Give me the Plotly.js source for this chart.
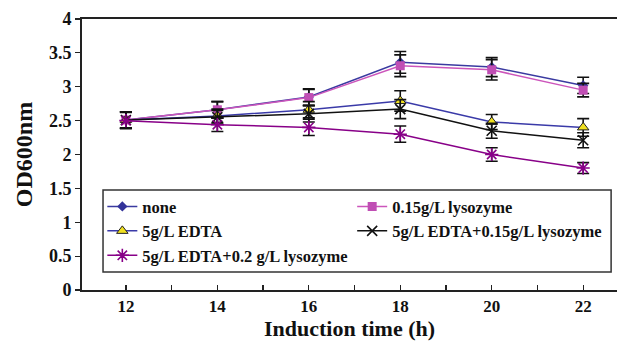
<!DOCTYPE html>
<html>
<head>
<meta charset="utf-8">
<script src="https://cdn.plot.ly/plotly-3.0.1.min.js"></script>
<style>html,body{margin:0;padding:0;background:#fff;}#chart{width:617px;height:347px;}</style>
</head>
<body>
<div id="chart"></div>
<script>
var hours = [12, 14, 16, 18, 20, 22];
var seriesNames = ["none", "0.15g/L lysozyme", "5g/L EDTA", "5g/L EDTA+0.15g/L lysozyme", "5g/L EDTA+0.2 g/L lysozyme"];
var noneVals = [2.51, 2.66, 2.85, 3.36, 3.29, 3.02];
var noneErr = [0.12, 0.12, 0.12, 0.16, 0.14, 0.12];
var lysVals = [2.51, 2.66, 2.84, 3.31, 3.25, 2.95];
var lysErr = [0.12, 0.12, 0.12, 0.16, 0.15, 0.1];
var edtaVals = [2.51, 2.57, 2.66, 2.79, 2.48, 2.40];
var edtaErr = [0.12, 0.1, 0.12, 0.15, 0.11, 0.13];
var edtaLys15Vals = [2.51, 2.55, 2.60, 2.67, 2.35, 2.21];
var edtaLys15Err = [0.12, 0.1, 0.12, 0.14, 0.11, 0.11];
var edtaLys20Vals = [2.50, 2.44, 2.40, 2.30, 2.00, 1.80];
var edtaLys20Err = [0.12, 0.1, 0.12, 0.12, 0.1, 0.08];
var xTickVals = [12, 14, 16, 18, 20, 22];
var yTickVals = [0, 0.5, 1, 1.5, 2, 2.5, 3, 3.5, 4];
var yTickText = ["0", "0.5", "1", "1.5", "2", "2.5", "3", "3.5", "4"];

function errBar(arr) {
  return {type: 'data', array: arr, visible: true, color: '#111', thickness: 1.6, width: 6};
}

var traces = [
  {x: hours, y: noneVals, name: seriesNames[0], legend: 'legend', legendgroup: 'a', mode: 'lines+markers', type: 'scatter',
   line: {color: '#3a3aa0', width: 1.5},
   marker: {symbol: 'diamond', size: 8, color: '#33339a'}, error_y: errBar(noneErr)},
  {x: hours, y: lysVals, name: seriesNames[1], legend: 'legend2', legendgroup: 'b', mode: 'lines+markers', type: 'scatter',
   line: {color: '#cc55bb', width: 1.5},
   marker: {symbol: 'square', size: 9, color: '#c04eb4'}, error_y: errBar(lysErr)},
  {x: hours, y: edtaVals, name: seriesNames[2], legend: 'legend', legendgroup: 'c', mode: 'lines+markers', type: 'scatter',
   line: {color: '#3a3aa8', width: 1.5},
   marker: {symbol: 'triangle-up', size: 10, color: '#f0e020', line: {color: '#222', width: 1}}, error_y: errBar(edtaErr)},
  {x: hours, y: edtaLys15Vals, name: seriesNames[3], legend: 'legend2', legendgroup: 'd', mode: 'lines+markers', type: 'scatter',
   line: {color: '#111', width: 1.5},
   marker: {symbol: 'x-thin-open', size: 10, color: '#111', line: {color: '#111', width: 1.6}}, error_y: errBar(edtaLys15Err)},
  {x: hours, y: edtaLys20Vals, name: seriesNames[4], legend: 'legend', legendgroup: 'e', mode: 'lines+markers', type: 'scatter',
   line: {color: '#880088', width: 1.5},
   marker: {symbol: 'asterisk-open', size: 11, color: '#880088', line: {color: '#880088', width: 1.6}}, error_y: errBar(edtaLys20Err)}
];

var serif = '"Liberation Serif", "Times New Roman", Times, serif';
var legendFont = {family: serif, size: 16.5, color: '#111', weight: 'bold'};
var layout = {
  width: 617, height: 347,
  margin: {l: 82, r: 0, t: 19, b: 57},
  paper_bgcolor: '#fff', plot_bgcolor: '#fff',
  font: {family: serif, color: '#111'},
  showlegend: true,
  legend: {
    orientation: 'v', x: 0.038, xanchor: 'left', y: 0.372, yanchor: 'top',
    bgcolor: 'rgba(0,0,0,0)', borderwidth: 0,
    font: legendFont, traceorder: 'normal', tracegroupgap: 5, itemwidth: 30
  },
  legend2: {
    orientation: 'v', x: 0.505, xanchor: 'left', y: 0.372, yanchor: 'top',
    bgcolor: 'rgba(0,0,0,0)', borderwidth: 0,
    font: legendFont, traceorder: 'normal', tracegroupgap: 5, itemwidth: 30
  },
  shapes: [
    {type: 'rect', xref: 'paper', yref: 'paper', x0: 0.0393, x1: 0.989, y0: 0.0664, y1: 0.369,
     line: {color: '#333', width: 1.5}, fillcolor: 'rgba(0,0,0,0)', layer: 'above'}
  ],
  xaxis: {
    range: [11.04, 22.74], tickvals: xTickVals, ticktext: xTickVals.map(String),
    ticks: 'inside', ticklen: 5, tickwidth: 1.2, tickcolor: '#222',
    minor: {dtick: 1, tick0: 11, ticks: 'inside', ticklen: 5, tickwidth: 1.2, tickcolor: '#222'},
    showline: true, linecolor: '#222', linewidth: 1.8, mirror: true,
    showgrid: false, zeroline: false,
    tickfont: {family: serif, size: 17, color: '#111', weight: 'bold'},
    title: {text: 'Induction time (h)', font: {family: serif, size: 22, color: '#111', weight: 'bold'}, standoff: 5}
  },
  yaxis: {
    range: [0, 4], tickvals: yTickVals, ticktext: yTickText,
    ticks: 'outside', ticklen: 5, tickwidth: 1.2, tickcolor: '#222',
    showline: true, linecolor: '#222', linewidth: 1.8, mirror: false,
    showgrid: false, zeroline: false,
    tickfont: {family: serif, size: 18, color: '#111', weight: 'bold'},
    title: {text: 'OD600nm', font: {family: serif, size: 24, color: '#111', weight: 'bold'}, standoff: 10}
  }
};

Plotly.newPlot('chart', traces, layout, {displayModeBar: false, staticPlot: true});
</script>
</body>
</html>
